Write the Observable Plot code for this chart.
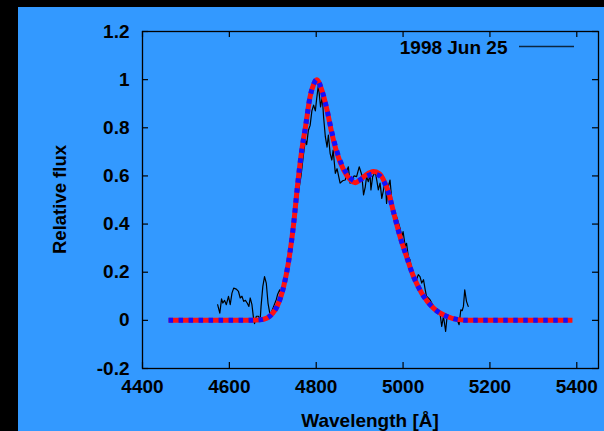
<!DOCTYPE html>
<html>
<head>
<meta charset="utf-8">
<script src="https://cdn.jsdelivr.net/npm/d3@7"></script>
<script src="https://cdn.jsdelivr.net/npm/@observablehq/plot@0.6"></script>
<style>
  html, body { margin: 0; padding: 0; background: #000; width: 604px; height: 431px; overflow: hidden; }
  #panel { position: absolute; left: 18px; top: 7px; width: 586px; height: 424px; background: #3399ff; }
  #chart { position: absolute; left: 0; top: 0; }
</style>
</head>
<body>
<div id="panel"></div>
<div id="chart"></div>
<script>
// ---- data ----
const legendLabel = "1998 Jun 25";
const xLabel = "Wavelength [Å]";
const yLabel = "Relative flux";
const xTicks = [4400, 4600, 4800, 5000, 5200, 5400];
const xTickLabels = ["4400", "4600", "4800", "5000", "5200", "5400"];
const yTicks = [-0.2, 0, 0.2, 0.4, 0.6, 0.8, 1, 1.2];
const yTickLabels = ["-0.2", "0", "0.2", "0.4", "0.6", "0.8", "1", "1.2"];

// observed spectrum (wavelength, relative flux)
const obsWave = [4573, 4578, 4582, 4585, 4589, 4593, 4598, 4602, 4606, 4610, 4616, 4621, 4625, 4629, 4633, 4637, 4641, 4645, 4648, 4652,
  4656, 4658, 4662, 4667, 4671, 4673, 4677, 4681, 4685, 4689, 4693, 4697, 4702, 4708, 4711, 4716, 4720, 4723, 4730, 4738,
  4745, 4752, 4758, 4765, 4770, 4775, 4778, 4782, 4786, 4790, 4794, 4798, 4801, 4805, 4807, 4810, 4814, 4817, 4821, 4825,
  4828, 4832, 4836, 4839, 4844, 4848, 4851, 4855, 4861, 4867, 4871, 4874, 4878, 4882, 4887, 4893, 4899, 4905, 4909, 4913,
  4916, 4920, 4924, 4926, 4930, 4936, 4940, 4943, 4947, 4951, 4955, 4959, 4962, 4966, 4970, 4974, 4978, 4985, 4993, 4997,
  5000, 5005, 5008, 5012, 5016, 5020, 5024, 5031, 5035, 5039, 5043, 5047, 5051, 5054, 5062, 5070, 5077, 5085, 5089, 5093,
  5098, 5101, 5108, 5116, 5123, 5129, 5133, 5136, 5139, 5142, 5146, 5150];
const obsFlux = [0.065, 0.03, 0.089, 0.072, 0.083, 0.065, 0.1, 0.065, 0.113, 0.134, 0.13, 0.12, 0.093, 0.1, 0.079, 0.083, 0.072, 0.058, 0.093, 0.065,
  0.003, -0.014, 0.017, 0.017, 0.003, 0.058, 0.14, 0.182, 0.155, 0.072, 0.03, 0.035, 0.058, 0.086, 0.107, 0.127, 0.113, 0.148, 0.17, 0.24,
  0.33, 0.43, 0.52, 0.6, 0.68, 0.75, 0.73, 0.79, 0.81, 0.87, 0.894, 0.87, 0.92, 0.977, 0.94, 0.887, 0.928, 0.845, 0.763, 0.72,
  0.77, 0.694, 0.666, 0.707, 0.611, 0.63, 0.604, 0.57, 0.58, 0.583, 0.625, 0.638, 0.57, 0.583, 0.6, 0.597, 0.638, 0.604, 0.521, 0.555,
  0.597, 0.576, 0.604, 0.542, 0.597, 0.617, 0.576, 0.542, 0.57, 0.507, 0.542, 0.583, 0.486, 0.555, 0.583, 0.5, 0.445, 0.431, 0.383, 0.348,
  0.369, 0.307, 0.32, 0.265, 0.252, 0.21, 0.196, 0.169, 0.19, 0.182, 0.155, 0.169, 0.127, 0.1, 0.086, 0.058, 0.044, 0.03, -0.025, 0.017,
  -0.046, 0.01, 0.017, 0.003, 0.01, -0.018, 0.044, 0.04, 0.058, 0.127, 0.079, 0.058];

// model fits (red solid and blue dashed)
const fitWave = [4460, 4560, 4640, 4670, 4687, 4700, 4710, 4725, 4736, 4748, 4757, 4767, 4775, 4786, 4794, 4801, 4813, 4825, 4836, 4848,
  4863, 4878, 4890, 4901, 4915, 4932, 4945, 4956, 4966, 4978, 4993, 5008, 5024, 5043, 5070, 5100, 5127, 5150, 5250, 5390];
const fitRed = [0, 0, 0, 0.002, 0.01, 0.03, 0.058, 0.14, 0.24, 0.40, 0.56, 0.71, 0.80, 0.93, 0.98, 1.0, 0.956, 0.873, 0.777, 0.694,
  0.625, 0.585, 0.572, 0.583, 0.605, 0.618, 0.61, 0.58, 0.535, 0.45, 0.348, 0.265, 0.182, 0.113, 0.051, 0.017, 0.003, 0, 0, 0];
const fitBlue = [0, 0, 0, 0.002, 0.01, 0.03, 0.058, 0.14, 0.24, 0.40, 0.56, 0.71, 0.80, 0.93, 0.98, 1.0, 0.956, 0.873, 0.782, 0.70,
  0.632, 0.592, 0.578, 0.584, 0.598, 0.608, 0.602, 0.575, 0.532, 0.45, 0.348, 0.265, 0.182, 0.113, 0.051, 0.017, 0.003, 0, 0, 0];

// ---- tables ----
const obs = obsWave.map((w, i) => ({w, f: obsFlux[i]}));
const red = fitWave.map((w, i) => ({w, f: fitRed[i]}));
const blue = fitWave.map((w, i) => ({w, f: fitBlue[i]}));

const W = 604, H = 431;
const mL = 142, mR = 6, mT = 31, mB = 63;
const innerW = W - mL - mR, innerH = H - mT - mB;
const tick = 6;
const font = "'Liberation Sans', Arial, sans-serif";

const chart = Plot.plot({
  width: W, height: H,
  marginLeft: mL, marginRight: mR, marginTop: mT, marginBottom: mB,
  style: {background: "transparent", fontFamily: font, fontWeight: "bold", fontSize: "19px", color: "#000", overflow: "visible"},
  x: {domain: [4400, 5450], label: null},
  y: {domain: [-0.2, 1.2], label: null},
  marks: [
    // observed spectrum
    Plot.line(obs, {x: "w", y: "f", stroke: "#000", strokeWidth: 1.2}),
    // fits
    Plot.line(red, {x: "w", y: "f", stroke: "#ff1010", strokeWidth: 5, strokeLinecap: "butt", curve: "monotone-x"}),
    Plot.line(blue, {x: "w", y: "f", stroke: "#1010ff", strokeWidth: 5, strokeLinecap: "butt", strokeDasharray: "4.5,5.5", curve: "monotone-x"}),
    // inward ticks on all four sides
    Plot.tickX(xTicks, {x: d => d, stroke: "#000", strokeWidth: 1.2, insetTop: innerH - tick}),
    Plot.tickX(xTicks, {x: d => d, stroke: "#000", strokeWidth: 1.2, insetBottom: innerH - tick}),
    Plot.tickY(yTicks, {y: d => d, stroke: "#000", strokeWidth: 1.2, insetRight: innerW - tick}),
    Plot.tickY(yTicks, {y: d => d, stroke: "#000", strokeWidth: 1.2, insetLeft: innerW - tick}),
    // tick labels
    Plot.axisX(xTicks, {anchor: "bottom", tickSize: 0, tickPadding: 11, tickFormat: d => xTickLabels[xTicks.indexOf(d)], fontSize: 19, fontWeight: "bold"}),
    Plot.axisY(yTicks, {anchor: "left", tickSize: 0, tickPadding: 13, tickFormat: d => yTickLabels[yTicks.indexOf(d)], fontSize: 19, fontWeight: "bold"}),
    Plot.frame({stroke: "#000", strokeWidth: 1.3}),
    // legend label
    Plot.text([legendLabel], {frameAnchor: "top-right", dx: -91, dy: 16, textAnchor: "end", lineAnchor: "middle", fontSize: 19, fontWeight: "bold", fill: "#000"})
  ]
});

const svg = d3.select(chart);
// legend line sample
svg.append("line").attr("x1", 519).attr("x2", 574).attr("y1", 46.5).attr("y2", 46.5)
  .attr("stroke", "#000").attr("stroke-opacity", 0.75).attr("stroke-width", 1.3);
// axis titles
svg.append("text").text(xLabel)
  .attr("x", mL + innerW / 2).attr("y", 427).attr("text-anchor", "middle")
  .attr("font-family", font).attr("font-weight", "bold").attr("font-size", 19).attr("fill", "#000");
svg.append("text").text(yLabel)
  .attr("transform", `translate(66,${mT + innerH / 2}) rotate(-90)`).attr("text-anchor", "middle")
  .attr("font-family", font).attr("font-weight", "bold").attr("font-size", 18.5).attr("fill", "#000");

document.getElementById("chart").appendChild(chart);
</script>
</body>
</html>
